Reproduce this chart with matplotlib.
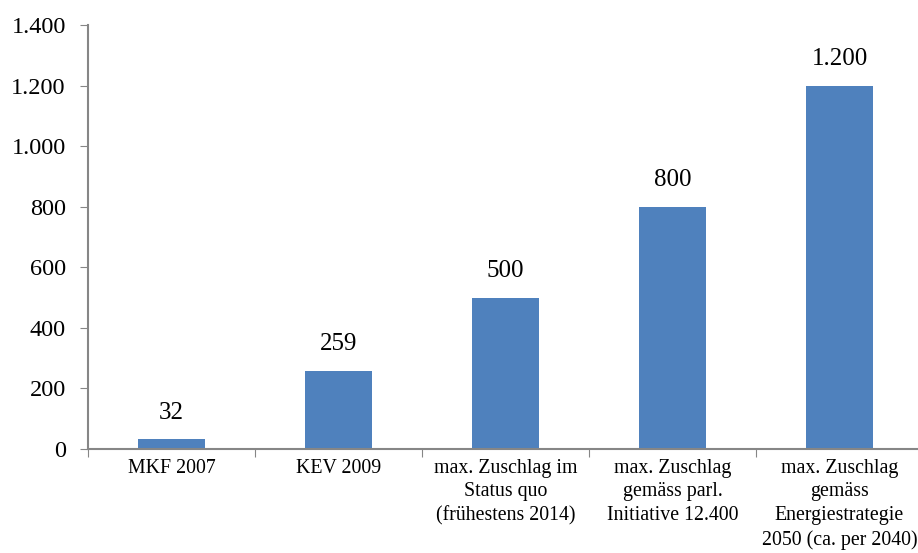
import matplotlib
matplotlib.use("Agg")
import matplotlib.pyplot as plt
import numpy as np

categories = ["MKF 2007", "KEV 2009", "max. Zuschlag im\nStatus quo\n(frühestens 2014)",
              "max. Zuschlag\ngemäss parl.\nInitiative 12.400",
              "max. Zuschlag\ngemäss\nEnergiestrategie\n2050 (ca. per 2040)"]
values = [32, 259, 500, 800, 1200]
value_labels = ["32", "259", "500", "800", "1.200"]
yticks = [0, 200, 400, 600, 800, 1000, 1200, 1400]
ytick_labels = ["0", "200", "400", "600", "800", "1.000", "1.200", "1.400"]

plt.rcParams['font.family'] = ['Liberation Serif', 'DejaVu Serif']

W, H = 918, 553
fig = plt.figure(figsize=(W/100, H/100), dpi=100)
left, right, top, bottom = 88, 923, 25, 449
ax = fig.add_axes([left/W, 1-bottom/H, (right-left)/W, (bottom-top)/H])

x = np.arange(len(values))
ax.bar(x, values, width=0.4, color="#4F81BD", zorder=2)
ax.set_xlim(-0.5, len(values)-0.5)
ax.set_ylim(0, 1400)

for xi, v, lab in zip(x, values, value_labels):
    ax.annotate(lab, (xi, v), xytext=(0, 11), textcoords="offset points",
                ha="center", va="bottom", fontsize=18, color="#000000")

ax.set_yticks(yticks)
ax.set_yticklabels(ytick_labels, fontsize=17.5)
ax.set_xticks(np.arange(-0.5, len(values)), minor=False)
ax.set_xticklabels([""] * (len(values)+1))
ax.set_xticks(x, minor=True)
ax.set_xticklabels(categories, minor=True, fontsize=14.3, linespacing=1.33, va="top")
ax.tick_params(axis="x", which="minor", length=0, pad=7)
ax.tick_params(axis="x", which="major", length=6, color="#868686", direction="out")
ax.tick_params(axis="y", length=6, color="#868686", direction="out", pad=10)

for s in ["top", "right"]:
    ax.spines[s].set_visible(False)
for s in ["left", "bottom"]:
    ax.spines[s].set_color("#868686")
    ax.spines[s].set_linewidth(1.5)

fig.savefig("out.png", dpi=100)
